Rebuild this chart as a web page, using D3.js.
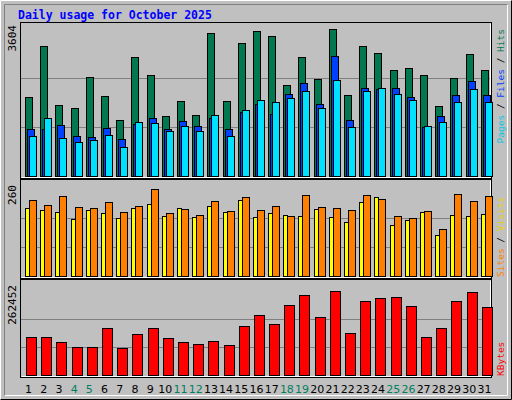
<!DOCTYPE html><html><head><meta charset="utf-8"><script src="https://cdn.jsdelivr.net/npm/d3@7"></script>
<style>body{margin:0;background:#fff}</style></head><body><svg id="c" width="512" height="400"></svg><script>
const days=d3.range(1,32).map(String);
const weekend=["4","5","11","12","18","19","25","26"];
const hits=[1934,3187,1737,1663,2425,1958,1368,2916,2474,1467,1835,1491,3506,1835,3260,3555,3432,2228,2916,2376,3604,1983,3187,3015,2597,2646,2474,1712,2400,2990,2597];
const files=[1147,1147,1246,975,951,1172,902,1270,1418,1147,1344,1221,1418,1147,1565,1762,1516,2007,2278,1762,2941,1368,2155,2130,2155,1934,1197,1467,1983,2327,1983];
const pages=[975,1418,926,828,877,1000,705,1319,1295,1098,1221,1098,1491,975,1614,1860,1811,1909,2081,1663,2351,1197,2081,2155,2007,1860,1221,1319,1811,2130,1811];
const sites=[203,198,192,169,198,189,172,203,215,178,203,175,209,192,226,175,189,183,180,200,175,161,220,237,152,166,192,124,183,180,186];
const visits=[226,212,240,206,203,220,192,209,260,189,200,183,223,195,237,198,209,178,243,206,203,198,243,229,180,172,195,141,246,223,240];
const kbytes=[118203,118203,103788,86490,86490,147033,83607,126852,147033,115320,103788,98022,106671,92256,152799,187395,158565,219108,250821,181629,262452,132618,230640,239289,245055,216225,118203,147033,230640,259470,213342];
const maxHits=3604,maxVisits=260,maxKB=262452;

const svg=d3.select("#c");
svg.append("rect").attr("x",0).attr("y",0).attr("width",512).attr("height",400).attr("fill","#c0c0c0");
svg.append("path").attr("d","M0.5,399.5V0.5H511.5").attr("stroke","#fff").attr("fill","none");
svg.append("path").attr("d","M0.5,399.5H511.5V0.5").attr("stroke","#000").attr("fill","none");
svg.append("path").attr("d","M4.5,395.5H507.5V4.5").attr("stroke","#fff").attr("fill","none");
svg.append("path").attr("d","M4.5,395.5V4.5H507.5").attr("stroke","#808080").attr("fill","none");
svg.append("text").attr("x",18).attr("y",19).text("Daily usage for October 2025").attr("fill","#0000ff").attr("font-family","DejaVu Sans Mono").attr("font-weight","bold").attr("font-size",11.5);

const x=d3.scaleBand().domain(days).range([20,491]);
const panels=[{top:24,base:176,bot:178,max:maxHits},{top:184,base:276,bot:278,max:maxVisits},{top:284,base:375,bot:377,max:maxKB}];
panels.forEach((p,i)=>{
  const y0=i==0?22:panels[i-1].bot+1;
  svg.append("rect").attr("x",20.5).attr("y",y0+0.5).attr("width",471).attr("height",p.bot-y0).attr("fill","#c0c0c0").attr("stroke","#000");
  svg.append("path").attr("d",`M21.5,${p.bot-0.5}H490.5V${y0+1.5}`).attr("stroke","#fff").attr("fill","none");
  const ys=d3.scaleLinear().domain([0,p.max]).range([p.base,p.top+ (i==2?7:5)]);
  p.y=ys;
  [1/3,2/3].forEach(f=>{const yy=Math.round(ys(p.max*f))+0.5;svg.append("line").attr("x1",21).attr("x2",490).attr("y1",yy).attr("y2",yy).attr("stroke","#808080");});
});
function bars(data,pi,dx,w,color){
  const ys=panels[pi].y;
  svg.append("g").selectAll("rect").data(data).join("rect")
   .attr("x",(d,i)=>Math.round(x(days[i]))+dx+0.5).attr("y",d=>Math.round(ys(d))+0.5)
   .attr("width",w).attr("height",d=>panels[pi].base-Math.round(ys(d)))
   .attr("fill",color).attr("stroke","#000");
}
bars(hits,0,5,7,"#007850");
bars(files,0,7,7,"#0040ff");
bars(pages,0,9,7,"#00e0ff");
bars(sites,1,5,4,"#ffff00");
bars(visits,1,9,7,"#ff8000");
bars(kbytes,2,6,10,"#ff0000");

svg.append("g").selectAll("text").data(days).join("text")
 .attr("x",d=>x(d)+x.bandwidth()/2+1).attr("y",393).attr("text-anchor","middle")
 .attr("font-family","DejaVu Sans").attr("font-size",11).attr("fill",d=>weekend.includes(d)?"#008060":"#000").text(d=>d);

function vlabel(xp,yp,parts,anchor,fs){
  const t=svg.append("text").attr("transform",`translate(${xp},${yp}) rotate(-90)`).attr("text-anchor",anchor)
   .attr("font-family","DejaVu Sans Mono").attr("font-size",fs);
  parts.forEach(([s,c])=>t.append("tspan").attr("fill",c).text(s));
}
vlabel(16,25,[["3604","#000"]],"end",11);
vlabel(16,185,[["260","#000"]],"end",11);
vlabel(16,285,[["262452","#000"]],"end",11);
vlabel(504,29,[["Pages","#00c8e0"],[" / ","#000"],["Files","#0040ff"],[" / ","#000"],["Hits","#007850"]],"end",9.5);
vlabel(504,277,[["Sites","#ff8000"],[" / ","#000"],["Visits","#e8d000"]],"start",9.5);
vlabel(504,376,[["KBytes","#ff0000"]],"start",9.5);
</script></body></html>
